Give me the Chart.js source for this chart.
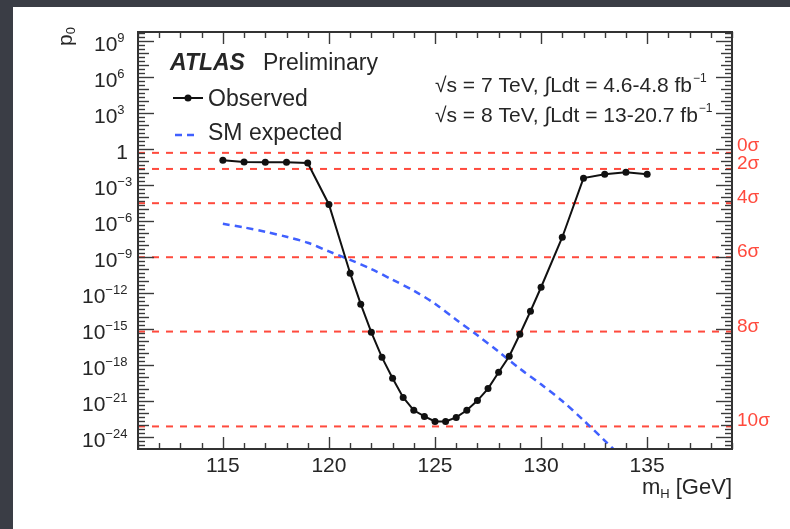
<!DOCTYPE html>
<html>
<head>
<meta charset="utf-8">
<title>ATLAS p0 vs mH</title>
<script src="https://cdn.jsdelivr.net/npm/chart.js@4.4.0/dist/chart.umd.min.js"></script>
<style>
    html, body { margin: 0; padding: 0; background: #3a3d45; overflow: hidden; }
    #wrap { position: absolute; left: 0; top: 0; width: 790px; height: 529px; }
</style>
</head>
<body>
<div id="wrap"><canvas id="p0-chart" width="790" height="529"></canvas></div>
<script>
// observed local p0 (black points)
const obsMass = [115, 116, 117, 118, 119, 120, 121, 121.5, 122, 122.5, 123, 123.5, 124, 124.5,
    125, 125.5, 126, 126.5, 127, 127.5, 128, 128.5, 129, 129.5, 130, 131, 132, 133, 134, 135];
const obsP0 = [1.2e-1, 8.5e-2, 8.3e-2, 8.3e-2, 7e-2, 2.5e-5, 4.6e-11, 1.2e-13, 5.4e-16, 4.4e-18,
    8e-20, 2e-21, 1.7e-22, 5.2e-23, 2e-23, 2e-23, 4.3e-23, 1.7e-22, 1.1e-21, 1.1e-20,
    2.5e-19, 5.4e-18, 3.7e-16, 3.1e-14, 3.1e-12, 4.6e-8, 3.9e-3, 8.3e-3, 1.2e-2, 8.3e-3];

// SM expected p0 (blue dashed)
const expMass = [115, 116, 117, 118, 119, 120, 121, 122, 123, 124, 125, 126, 127, 128, 129, 130, 131, 132, 133, 134];
const expP0 = [6e-7, 3e-7, 1.3e-7, 5e-8, 1.6e-8, 3e-9, 6e-10, 1e-10, 1.3e-11, 1.6e-12, 1.3e-13,
    6e-15, 3e-16, 1.3e-17, 5e-19, 2.5e-20, 1e-21, 2.5e-23, 5e-25, 1e-26];

// significance reference lines
const sigmaLabels = ['0σ', '2σ', '4σ', '6σ', '8σ', '10σ'];
const sigmaP0 = [0.5, 2.275e-2, 3.167e-5, 9.866e-10, 6.221e-16, 7.62e-24];

// axes
const massRange = [111, 139];
const p0Range = [1e-25, 6e9];
const xTickLabels = [115, 120, 125, 130, 135];
const yTickExponents = [9, 6, 3, 0, -3, -6, -9, -12, -15, -18, -21, -24];

const FONT = '"Liberation Sans", Arial, Helvetica, sans-serif';
const RED = '#ff4a3d';
const INK = '#262626';

const toPoints = (xs, ys) => xs.map((x, i) => ({ x: x, y: ys[i] }));

const sigmaDatasets = sigmaP0.map((p, i) => ({
    label: sigmaLabels[i],
    data: [{ x: massRange[0], y: p }, { x: massRange[1], y: p }],
    borderColor: RED,
    borderWidth: 2,
    borderDash: [7, 7],
    pointRadius: 0
}));

// white paper panel behind the plot
const panelPlugin = {
    id: 'panel',
    beforeDraw(chart) {
        const ctx = chart.ctx;
        ctx.save();
        ctx.fillStyle = '#ffffff';
        ctx.fillRect(13, 7, 777, 522);
        ctx.restore();
    }
};

function line(ctx, x1, y1, x2, y2) {
    ctx.beginPath();
    ctx.moveTo(x1, y1);
    ctx.lineTo(x2, y2);
    ctx.stroke();
}

// ROOT style frame, inward ticks, labels and annotations
const rootPlugin = {
    id: 'rootStyle',
    afterDraw(chart) {
        const ctx = chart.ctx;
        const xs = chart.scales.x, ys = chart.scales.y;
        const { left, right, top, bottom } = chart.chartArea;
        ctx.save();

        // ticks
        ctx.strokeStyle = '#3a3a3a';
        ctx.lineWidth = 1.4;
        for (let m = Math.ceil(massRange[0]); m <= massRange[1]; m++) {
            const px = Math.round(xs.getPixelForValue(m)) + 0.5;
            const len = m % 5 === 0 ? 12 : 6;
            line(ctx, px, bottom, px, bottom - len);
            line(ctx, px, top, px, top + len);
        }
        for (let k = -75; k <= 30; k++) {
            const py = Math.round(ys.getPixelForValue(Math.pow(10, k / 3))) + 0.5;
            if (py < top || py > bottom) continue;
            const len = k % 9 === 0 ? 16 : (k % 3 === 0 ? 11 : 7);
            line(ctx, left, py, left + len, py);
            line(ctx, right, py, right - len, py);
        }

        // frame
        ctx.strokeStyle = '#333';
        ctx.lineWidth = 2;
        ctx.strokeRect(left, top, right - left, bottom - top);

        ctx.fillStyle = INK;
        ctx.textBaseline = 'alphabetic';

        // y tick labels 10^n
        yTickExponents.forEach(e => {
            const py = ys.getPixelForValue(Math.pow(10, e));
            if (e === 0) {
                ctx.font = '21px ' + FONT;
                ctx.textAlign = 'right';
                ctx.fillText('1', 128, py + 9.5);
                return;
            }
            const expStr = String(e).replace('-', '\u2212');
            const x0 = expStr.length > 2 ? 82 : 94;
            ctx.textAlign = 'left';
            ctx.font = '21px ' + FONT;
            ctx.fillText('10', x0, py + 9.5);
            const w = ctx.measureText('10').width;
            ctx.font = '13px ' + FONT;
            ctx.fillText(expStr, x0 + w, py + 0.5);
        });

        // x tick labels
        ctx.font = '21px ' + FONT;
        ctx.textAlign = 'center';
        xTickLabels.forEach(v => {
            ctx.fillText(String(v), xs.getPixelForValue(v), 472);
        });

        // x title: m_H [GeV]
        ctx.textAlign = 'left';
        ctx.font = '22px ' + FONT;
        const tail = ' [GeV]';
        const wTail = ctx.measureText(tail).width;
        const wM = ctx.measureText('m').width;
        ctx.font = '13px ' + FONT;
        const wH = ctx.measureText('H').width;
        let tx = right - wTail - wH - wM;
        ctx.font = '22px ' + FONT;
        ctx.fillText('m', tx, 494);
        ctx.font = '13px ' + FONT;
        ctx.fillText('H', tx + wM, 498);
        ctx.font = '22px ' + FONT;
        ctx.fillText(tail, tx + wM + wH, 494);

        // y title: p_0
        ctx.save();
        ctx.translate(72, 46);
        ctx.rotate(-Math.PI / 2);
        ctx.font = '21px ' + FONT;
        ctx.fillText('p', 0, 0);
        const wp = ctx.measureText('p').width;
        ctx.font = '13px ' + FONT;
        ctx.fillText('0', wp, 3);
        ctx.restore();

        // sigma labels on the right
        ctx.fillStyle = RED;
        ctx.font = '19px ' + FONT;
        ctx.textAlign = 'left';
        sigmaP0.forEach((p, i) => {
            const py = ys.getPixelForValue(p);
            ctx.fillText(sigmaLabels[i], 737, py - (i === 0 ? 2 : 0));
        });

        // ATLAS Preliminary
        ctx.fillStyle = INK;
        ctx.font = 'italic bold 23px ' + FONT;
        ctx.fillText('ATLAS', 170, 70);
        ctx.font = '23px ' + FONT;
        ctx.fillText('Preliminary', 263, 70);

        // legend
        ctx.strokeStyle = '#111';
        ctx.lineWidth = 2;
        line(ctx, 173, 98, 203, 98);
        ctx.fillStyle = '#111';
        ctx.beginPath();
        ctx.arc(188, 98, 3.5, 0, Math.PI * 2);
        ctx.fill();
        ctx.strokeStyle = '#4060ff';
        ctx.lineWidth = 2.5;
        ctx.setLineDash([7, 5]);
        line(ctx, 175, 135, 199, 135);
        ctx.setLineDash([]);
        ctx.fillStyle = INK;
        ctx.textBaseline = 'middle';
        ctx.font = '23px ' + FONT;
        ctx.fillText('Observed', 208, 100);
        ctx.fillText('SM expected', 208, 134);

        // energy / luminosity
        ctx.textBaseline = 'alphabetic';
        const lumiLines = [
            ['\u221As = 7 TeV, \u222BLdt = 4.6-4.8 fb', 92],
            ['\u221As = 8 TeV, \u222BLdt = 13-20.7 fb', 122]
        ];
        lumiLines.forEach(([txt, by]) => {
            ctx.font = '21px ' + FONT;
            ctx.fillText(txt, 435, by);
            const w = ctx.measureText(txt).width;
            ctx.font = '12px ' + FONT;
            ctx.fillText('\u22121', 435 + w + 1, by - 10);
        });

        ctx.restore();
    }
};

new Chart(document.getElementById('p0-chart').getContext('2d'), {
    type: 'line',
    data: {
        datasets: [
            {
                label: 'Observed',
                data: toPoints(obsMass, obsP0),
                borderColor: '#111',
                borderWidth: 2,
                pointRadius: 3.5,
                pointBackgroundColor: '#111',
                pointBorderWidth: 0,
                tension: 0
            },
            {
                label: 'SM expected',
                data: toPoints(expMass, expP0),
                borderColor: '#4060ff',
                borderWidth: 2.5,
                borderDash: [7, 5],
                pointRadius: 0,
                tension: 0.3
            },
            ...sigmaDatasets
        ]
    },
    options: {
        responsive: false,
        animation: false,
        devicePixelRatio: 1,
        layout: { padding: { left: 138, top: 32, right: 58, bottom: 80 } },
        plugins: { legend: { display: false }, tooltip: { enabled: false } },
        scales: {
            x: { type: 'linear', display: false, min: massRange[0], max: massRange[1] },
            y: { type: 'logarithmic', display: false, min: p0Range[0], max: p0Range[1] }
        }
    },
    plugins: [panelPlugin, rootPlugin]
});
</script>
</body>
</html>
